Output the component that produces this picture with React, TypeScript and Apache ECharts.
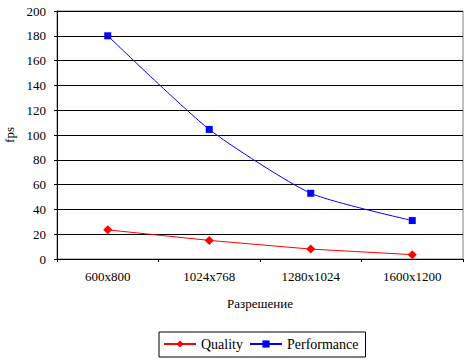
import React, { useEffect, useRef } from "react";
import * as echarts from "echarts";

const categories = ["600x800", "1024x768", "1280x1024", "1600x1200"];
const quality = [23.5, 15, 8, 3.5];
const performance = [180, 104.5, 53, 31];
const yTicks = { min: 0, max: 200, interval: 20 };

const FONT = "Liberation Serif";

export default function App() {
  const ref = useRef<HTMLDivElement>(null);
  useEffect(() => {
    if (!ref.current) return;
    const chart = echarts.init(ref.current, undefined, { renderer: "svg" });
    chart.setOption({
      animation: false,
      backgroundColor: "#ffffff",
      textStyle: { fontFamily: FONT, color: "#000" },
      grid: {
        left: 57,
        top: 11,
        width: 406,
        height: 248,
        containLabel: false,
        outerBoundsMode: "none",
        show: true,
        borderColor: "#808080",
        borderWidth: 1,
        backgroundColor: "transparent",
      },
      legend: {
        left: 159,
        top: 332,
        padding: [5, 7, 6, 4],
        borderColor: "#000",
        borderWidth: 1,
        borderRadius: 0,
        itemWidth: 32,
        itemHeight: 9,
        itemGap: 6,
        textStyle: { fontFamily: FONT, fontSize: 14, color: "#000" },
        data: ["Quality", "Performance"],
      },
      xAxis: {
        type: "category",
        data: categories,
        boundaryGap: true,
        name: "Разрешение",
        nameLocation: "middle",
        nameGap: 38,
        nameTextStyle: { fontFamily: FONT, fontSize: 13, color: "#000" },
        axisLine: { lineStyle: { color: "#000", width: 1 } },
        axisTick: { show: true, length: 3, lineStyle: { color: "#000" } },
        axisLabel: { fontFamily: FONT, fontSize: 13, color: "#000", margin: 11 },
        splitLine: { show: false },
      },
      yAxis: {
        type: "value",
        min: yTicks.min,
        max: yTicks.max,
        interval: yTicks.interval,
        name: "fps",
        nameLocation: "middle",
        nameGap: 41,
        nameRotate: 90,
        nameTextStyle: { fontFamily: FONT, fontSize: 13, color: "#000" },
        axisLine: { show: true, lineStyle: { color: "#000", width: 1 } },
        axisTick: { show: true, length: 3, lineStyle: { color: "#000" } },
        axisLabel: { fontFamily: FONT, fontSize: 13, color: "#000", margin: 11 },
        splitLine: { show: true, lineStyle: { color: "#000", width: 1 } },
      },
      series: [
        {
          name: "Quality",
          type: "line",
          data: quality,
          symbol: "diamond",
          symbolSize: 9,
          lineStyle: { color: "#ff0000", width: 1 },
          itemStyle: { color: "#ff0000" },
          smooth: false,
        },
        {
          name: "Performance",
          type: "line",
          data: performance,
          symbol: "rect",
          symbolSize: 7,
          lineStyle: { color: "#0000ff", width: 1 },
          itemStyle: { color: "#0000ff" },
          smooth: 0.2,
        },
      ],
    });
    return () => chart.dispose();
  }, []);
  return (
    <div
      ref={ref}
      style={{ position: "absolute", left: 0, top: 0, width: 468, height: 360 }}
    />
  );
}
